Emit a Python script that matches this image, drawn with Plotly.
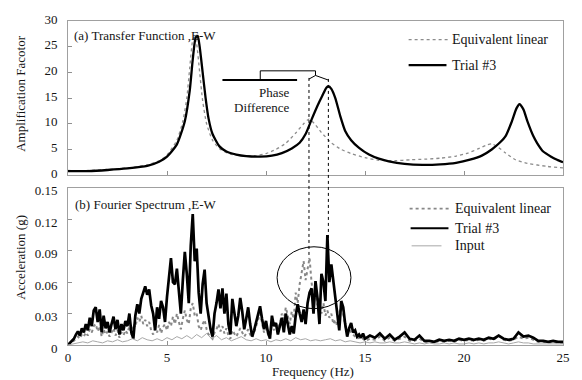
import plotly.graph_objects as go

# ---------------- (a) Transfer function, E-W ----------------
TF_TRIAL_F = [0.0, 1.0, 2.0, 3.0, 4.0, 4.6, 5.0, 5.5, 5.9, 6.15, 6.3, 6.45, 6.55,
              6.65, 6.8, 6.95, 7.1, 7.3, 7.65, 8.0, 8.5, 9.0, 9.7, 10.3, 10.8,
              11.3, 11.7, 12.0, 12.3, 12.6, 12.85, 13.05, 13.15, 13.3, 13.5,
              13.75, 14.0, 14.3, 14.7, 15.2, 15.7, 16.2, 17.0, 17.9, 18.8, 19.6,
              20.3, 20.9, 21.4, 21.8, 22.1, 22.4, 22.65, 22.8, 23.0, 23.2, 23.5,
              23.7, 24.0, 24.4, 24.7, 25.0]
TF_TRIAL_V = [0.8, 0.8, 1.0, 1.3, 1.8, 2.6, 3.6, 6.0, 10.5, 16.5, 22.5, 26.8, 27.1,
              25.0, 20.0, 15.0, 11.0, 8.0, 5.6, 4.6, 4.0, 3.7, 3.6, 3.8, 4.3,
              5.2, 6.3, 8.0, 10.8, 13.5, 15.5, 17.0, 17.3, 16.8, 15.0,
              11.5, 8.6, 6.8, 5.3, 4.0, 3.2, 2.7, 2.2, 2.0, 2.1, 2.4,
              3.0, 3.8, 5.0, 6.3, 7.6, 10.3, 13.0, 13.8, 12.8, 10.5, 7.6,
              6.2, 4.6, 3.6, 3.0, 2.5]

TF_EL_F = [0.0, 1.0, 2.0, 3.0, 4.0, 4.6, 5.0, 5.5, 5.8, 6.0, 6.15, 6.3, 6.4, 6.5,
           6.65, 6.8, 7.0, 7.3, 7.7, 8.2, 8.8, 9.5, 10.0, 10.5, 11.0, 11.5,
           11.9, 12.17, 12.45, 12.8, 13.3, 13.8, 14.3, 15.0, 15.7, 16.5, 17.3,
           18.0, 18.8, 19.6, 20.2, 20.7, 21.1, 21.4, 21.7, 22.1, 22.6, 23.2,
           24.2, 25.0]
TF_EL_V = [0.9, 0.9, 1.1, 1.4, 2.0, 2.8, 3.9, 6.8, 10.5, 15.0, 21.0, 26.3, 27.0, 25.5,
           20.0, 14.5, 10.0, 6.8, 5.0, 4.1, 3.8, 3.8, 4.2, 5.0, 6.2, 8.2,
           10.0, 10.9, 10.0, 8.3, 6.3, 5.0, 4.2, 3.4, 2.9, 2.8, 3.0,
           3.1, 3.3, 3.7, 4.3, 5.1, 5.8, 6.1, 5.5, 4.3, 3.0, 2.3,
           1.7, 1.4]

# ---------------- (b) Fourier spectrum, E-W ----------------
# 0-15 Hz sampled every 0.1 Hz, 15-25 Hz every 0.25 Hz
SPEC_F = [round(0.1 * i, 1) for i in range(151)] + [15.25 + 0.25 * i for i in range(40)]

SPEC_TRIAL = [
    0.000, 0.002, 0.004, 0.006, 0.010, 0.013, 0.009, 0.016, 0.012, 0.020,
    0.014, 0.026, 0.018, 0.033, 0.036, 0.022, 0.034, 0.012, 0.028, 0.016,
    0.022, 0.012, 0.020, 0.027, 0.015, 0.024, 0.010, 0.020, 0.014, 0.023,
    0.018, 0.030, 0.012, 0.006, 0.028, 0.039, 0.030, 0.044, 0.050, 0.056,
    0.048, 0.053, 0.038, 0.030, 0.014, 0.036, 0.025, 0.042, 0.036, 0.022,
    0.046, 0.068, 0.083, 0.060, 0.058, 0.073, 0.050, 0.030, 0.062, 0.089,
    0.068, 0.040, 0.095, 0.125, 0.080, 0.092, 0.050, 0.030, 0.058, 0.072,
    0.040, 0.025, 0.015, 0.008, 0.030, 0.040, 0.053, 0.035, 0.054, 0.030,
    0.049, 0.020, 0.010, 0.044, 0.030, 0.018, 0.028, 0.045, 0.032, 0.015,
    0.025, 0.036, 0.020, 0.008, 0.014, 0.022, 0.030, 0.037, 0.025, 0.015,
    0.023, 0.012, 0.006, 0.028, 0.018, 0.021, 0.010, 0.017, 0.026, 0.012,
    0.030, 0.020, 0.010, 0.018, 0.011, 0.028, 0.039, 0.030, 0.022, 0.034,
    0.020, 0.040, 0.050, 0.054, 0.030, 0.061, 0.045, 0.020, 0.068, 0.060,
    0.042, 0.105, 0.060, 0.077, 0.061, 0.050, 0.030, 0.014, 0.042, 0.036,
    0.020, 0.008, 0.016, 0.021, 0.012, 0.014, 0.008, 0.010, 0.007, 0.011,
    0.006,
    0.009, 0.007, 0.011, 0.006, 0.010, 0.005, 0.008, 0.012, 0.006, 0.005,
    0.009, 0.004, 0.004, 0.003, 0.005, 0.004, 0.005, 0.004, 0.006, 0.005,
    0.006, 0.005, 0.006, 0.005, 0.007, 0.006, 0.009, 0.006, 0.005, 0.006,
    0.012, 0.008, 0.009, 0.007, 0.004, 0.004, 0.003, 0.004, 0.003, 0.003]

SPEC_EL = [
    0.000, 0.001, 0.003, 0.004, 0.006, 0.008, 0.006, 0.010, 0.008, 0.012,
    0.009, 0.015, 0.012, 0.018, 0.020, 0.013, 0.018, 0.008, 0.015, 0.010,
    0.013, 0.008, 0.012, 0.016, 0.009, 0.014, 0.007, 0.012, 0.009, 0.014,
    0.011, 0.018, 0.010, 0.020, 0.017, 0.026, 0.022, 0.028, 0.020, 0.024,
    0.018, 0.022, 0.014, 0.010, 0.016, 0.012, 0.019, 0.011, 0.017, 0.020,
    0.014, 0.022, 0.018, 0.027, 0.020, 0.030, 0.022, 0.015, 0.025, 0.033,
    0.024, 0.020, 0.035, 0.040, 0.028, 0.030, 0.018, 0.014, 0.020, 0.024,
    0.015, 0.010, 0.008, 0.006, 0.012, 0.015, 0.020, 0.013, 0.018, 0.011,
    0.016, 0.009, 0.006, 0.014, 0.011, 0.008, 0.012, 0.016, 0.012, 0.008,
    0.011, 0.015, 0.010, 0.007, 0.012, 0.017, 0.024, 0.030, 0.020, 0.012,
    0.016, 0.010, 0.008, 0.018, 0.014, 0.022, 0.016, 0.020, 0.030, 0.024,
    0.036, 0.028, 0.020, 0.032, 0.025, 0.050, 0.040, 0.058, 0.070, 0.080,
    0.062, 0.072, 0.083, 0.060, 0.045, 0.052, 0.038, 0.045, 0.030, 0.040,
    0.028, 0.033, 0.026, 0.030, 0.020, 0.024, 0.018, 0.030, 0.039, 0.030,
    0.018, 0.012, 0.015, 0.012, 0.010, 0.009, 0.006, 0.007, 0.005, 0.006,
    0.004,
    0.006, 0.005, 0.008, 0.004, 0.007, 0.004, 0.006, 0.008, 0.004, 0.004,
    0.006, 0.003, 0.003, 0.002, 0.004, 0.003, 0.004, 0.003, 0.005, 0.004,
    0.005, 0.004, 0.005, 0.004, 0.006, 0.005, 0.009, 0.005, 0.004, 0.005,
    0.008, 0.006, 0.007, 0.005, 0.003, 0.003, 0.002, 0.003, 0.002, 0.002]

INPUT_F = [0.25 * i for i in range(101)]
SPEC_INPUT = [
    0.000, 0.001, 0.002, 0.003, 0.002, 0.004, 0.003, 0.002, 0.004, 0.003,
    0.005, 0.003, 0.004, 0.006, 0.004, 0.007, 0.005, 0.004, 0.006, 0.004,
    0.007, 0.005, 0.008, 0.006, 0.009, 0.006, 0.010, 0.007, 0.011, 0.006,
    0.009, 0.005, 0.007, 0.004, 0.006, 0.008, 0.005, 0.004, 0.006, 0.004,
    0.005, 0.003, 0.005, 0.004, 0.006, 0.004, 0.007, 0.005, 0.006, 0.004,
    0.005, 0.004, 0.005, 0.006, 0.004, 0.005, 0.003, 0.004, 0.003, 0.002,
    0.003,
    0.002, 0.003, 0.002, 0.002, 0.003, 0.002, 0.002, 0.003, 0.002, 0.001,
    0.002, 0.001, 0.002, 0.001, 0.001, 0.002, 0.001, 0.002, 0.001, 0.001,
    0.002, 0.001, 0.002, 0.001, 0.002, 0.002, 0.003, 0.002, 0.001, 0.002,
    0.003, 0.002, 0.002, 0.001, 0.001, 0.001, 0.001, 0.001, 0.001, 0.001]

X_TICKS = [0, 5, 10, 15, 20, 25]
Y1_TICKS = [0, 5, 10, 15, 20, 25, 30]
Y2_TICKS = [0, 0.03, 0.06, 0.09, 0.12, 0.15]
Y2_TEXT = ["0", "0.03", "0.06", "0.09", "0.12", "0.15"]

FONT = "Liberation Serif"
TXT = "#151515"
GRAY_EL = "#8c8c8c"


def peak_freq(freqs, vals, lo, hi):
    best = max((v, f) for f, v in zip(freqs, vals) if lo <= f <= hi)
    return best[1]


f_el_peak = peak_freq(TF_EL_F, TF_EL_V, 10, 15)
f_tr_peak = peak_freq(TF_TRIAL_F, TF_TRIAL_V, 10, 15)

fig = go.Figure()

# transfer functions
fig.add_trace(go.Scatter(x=TF_EL_F, y=TF_EL_V, mode="lines", xaxis="x", yaxis="y",
                         line=dict(color=GRAY_EL, width=1.3, dash="dot",
                                   shape="spline", smoothing=0.6),
                         name="Equivalent linear", showlegend=False))
fig.add_trace(go.Scatter(x=TF_TRIAL_F, y=TF_TRIAL_V, mode="lines", xaxis="x", yaxis="y",
                         line=dict(color="#000000", width=2.3,
                                   shape="spline", smoothing=0.6),
                         name="Trial #3", showlegend=False))

# Fourier spectra
fig.add_trace(go.Scatter(x=SPEC_F, y=SPEC_EL, mode="lines", xaxis="x2", yaxis="y2",
                         line=dict(color="#888888", width=2, dash="dot"),
                         name="Equivalent linear", showlegend=False))
fig.add_trace(go.Scatter(x=SPEC_F, y=SPEC_TRIAL, mode="lines", xaxis="x2", yaxis="y2",
                         line=dict(color="#000000", width=2.7),
                         name="Trial #3", showlegend=False))
fig.add_trace(go.Scatter(x=INPUT_F, y=SPEC_INPUT, mode="lines", xaxis="x2", yaxis="y2",
                         line=dict(color="#a8a8a8", width=1),
                         name="Input", showlegend=False))

# plot area in pixels: x 68..565, y 15..345
L, R, T, B = 68, 17, 15, 35
W, H = 582, 380
PW, PH = W - L - R, H - T - B


def px(xp):
    return (xp - L) / PW


def py(yp):
    return (T + PH - yp) / PH


axis_common = dict(showline=True, mirror=True, linecolor="#a0a0a0", linewidth=1,
                   ticks="inside", ticklen=4, tickcolor="#909090", showgrid=False,
                   zeroline=False, tickfont=dict(family=FONT, size=13, color=TXT))

fig.update_layout(
    width=W, height=H,
    margin=dict(l=L, r=R, t=T, b=B),
    paper_bgcolor="white", plot_bgcolor="white",
    font=dict(family=FONT, size=13, color=TXT),
    xaxis=dict(domain=[0, 1], range=[0, 25], anchor="y", tickvals=X_TICKS,
               showticklabels=False, **axis_common),
    yaxis=dict(domain=[py(172), 1], range=[0, 30], anchor="x", tickvals=Y1_TICKS,
               ticklabelstandoff=7, ticklabelshift=-2, **axis_common),
    xaxis2=dict(domain=[0, 1], range=[0, 25], anchor="y2", tickvals=X_TICKS,
                **axis_common),
    yaxis2=dict(domain=[0, py(185)], range=[0, 0.15], anchor="x2", tickvals=Y2_TICKS,
                ticktext=Y2_TEXT, ticklabelstandoff=7, ticklabelshift=3, **axis_common),
)

shapes = []
# phase difference bracket
thin = dict(color="#000000", width=1)
shapes.append(dict(type="line", xref="x", yref="y", x0=7.8, x1=11.57, y0=18.5, y1=18.5,
                   line=dict(color="#000000", width=2)))
shapes.append(dict(type="line", xref="x", yref="y", x0=9.71, x1=9.71, y0=18.5, y1=20.3, line=thin))
shapes.append(dict(type="line", xref="x", yref="y", x0=9.71, x1=12.5, y0=20.3, y1=20.3, line=thin))
shapes.append(dict(type="line", xref="x", yref="y", x0=12.5, x1=12.5, y0=20.3, y1=19.4, line=thin))
shapes.append(dict(type="line", xref="x", yref="y", x0=12.5, x1=f_el_peak, y0=19.4, y1=18.7, line=thin))
shapes.append(dict(type="line", xref="x", yref="y", x0=12.5, x1=f_tr_peak, y0=19.4, y1=18.5, line=thin))
# dotted drop lines through both panels
shapes.append(dict(type="line", xref="x", yref="paper", x0=f_el_peak, x1=f_el_peak,
                   y0=py(73), y1=py(257), line=dict(color="#000000", width=1, dash="dot")))
shapes.append(dict(type="line", xref="x", yref="paper", x0=f_tr_peak, x1=f_tr_peak,
                   y0=py(74), y1=py(236), line=dict(color="#000000", width=1, dash="dot")))
# ellipse around the shifted peaks
shapes.append(dict(type="circle", xref="x2", yref="y2", x0=10.56, x1=14.29,
                   y0=0.0347, y1=0.0938, line=dict(color="#000000", width=1)))


# legend keys
def key(x0, x1, y, color, width, dash="solid"):
    shapes.append(dict(type="line", xref="paper", yref="paper", x0=px(x0), x1=px(x1),
                       y0=py(y), y1=py(y), line=dict(color=color, width=width, dash=dash)))


key(410, 450, 34, GRAY_EL, 1.3, "dot")
key(410, 448, 60, "#000000", 2.2)
key(411, 453, 206, "#888888", 1.8, "dot")
key(412, 450, 226, "#000000", 2)
key(413, 443, 244, "#a8a8a8", 1)

fig.update_layout(shapes=shapes)

ann = []


def text(s, xp, yp, xanchor="left", size=13, angle=0):
    ann.append(dict(text=s, xref="paper", yref="paper", x=px(xp), y=py(yp),
                    xanchor=xanchor, yanchor="middle", showarrow=False, textangle=angle,
                    font=dict(family=FONT, size=size, color=TXT)))


text("(a) Transfer Function ,E-W", 72, 30)
text("(b) Fourier Spectrum ,E-W", 73, 202)
text("Phase", 293, 88, "right")
text("Difference", 293, 103, "right")
text("Equivalent linear", 452, 34, size=14)
text("Trial #3", 452, 60, size=14)
text("Equivalent linear", 455, 206, size=14)
text("Trial #3", 455, 226, size=14)
text("Input", 455, 244, size=14)
text("Amplification Facotor", 20, 89, "center", angle=-90)
text("Acceleration (g)", 20, 256, "center", angle=-90)
text("Frequency (Hz)", 314, 372, "center")

fig.update_layout(annotations=ann)

fig.write_html("out.html")
